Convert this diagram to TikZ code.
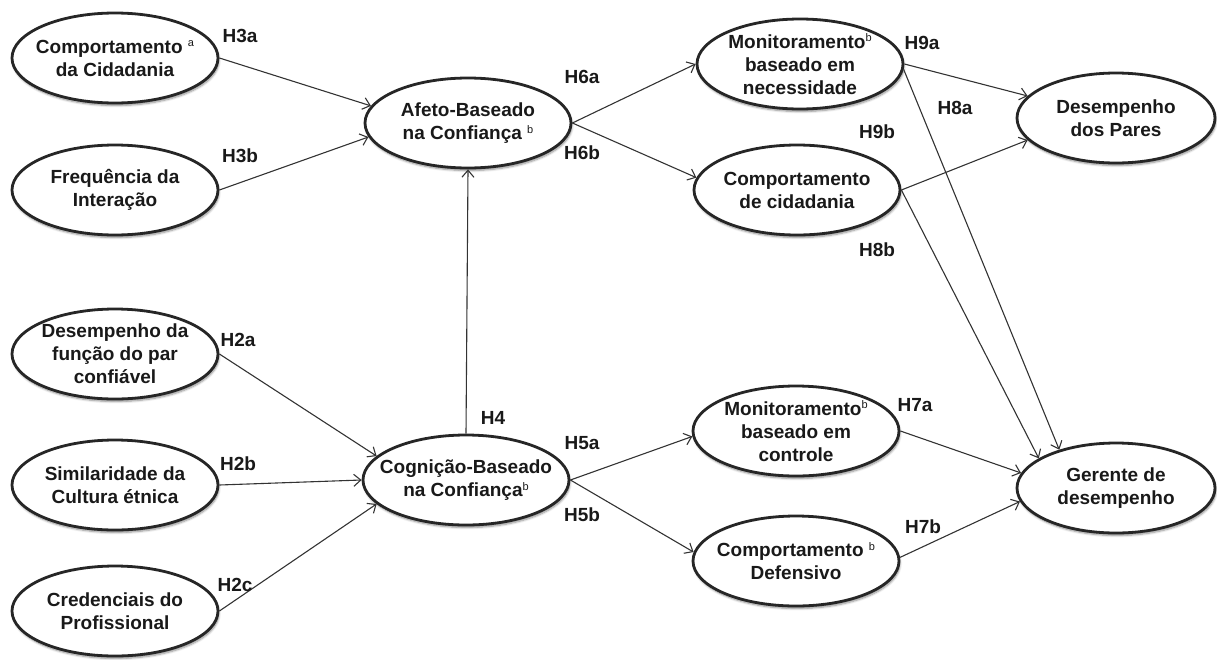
\documentclass[tikz,border=0pt]{standalone}
\usepackage{fontspec}
\setmainfont{Liberation Sans}
\usetikzlibrary{shapes.geometric,arrows.meta,shadows.blur}

% small raised marker after a construct name
\newcommand\upmark[1]{\raisebox{0.62ex}{\fontsize{11}{11}\selectfont\mdseries #1}}

\tikzset{
  ell/.style={ellipse, draw=black!85, line width=2.8pt, fill=white,
    minimum width=206, minimum height=90, inner sep=0pt,
    blur shadow={shadow xshift=1pt, shadow yshift=-2.5pt,
      shadow blur steps=6, shadow opacity=45}},
  txt/.style={font=\fontsize{19}{23}\selectfont\bfseries, text=black!90,
    align=center, inner sep=0pt},
  hyp/.style={font=\fontsize{19}{23}\selectfont\bfseries, text=black!90,
    inner sep=0pt},
  link/.style={draw=black!80, line width=1.1pt,
    -{Straight Barb[length=7pt,width=12pt,line width=1.1pt]}},
}

\begin{document}
\begin{tikzpicture}[x=1pt,y=-1pt]
\useasboundingbox (0,0) rectangle (1217,659);

% antecedents
\node[ell, label={[txt]center:{Comportamento \upmark{a}\\da Cidadania}}] (cc) at (115,58) {};
\node[ell, label={[txt]center:{Frequência da\\Interação}}] (fi) at (115,190) {};
\node[ell, label={[txt]center:{Desempenho da\\função do par\\confiável}}] (dp) at (115,354) {};
\node[ell, label={[txt]center:{Similaridade da\\Cultura étnica}}] (sc) at (115,485) {};
\node[ell, label={[txt]center:{Credenciais do\\Profissional}}] (cp) at (115,611) {};

% trust constructs
\node[ell, label={[txt]center:{Afeto-Baseado\\na Confiança \upmark{b}}}] (af) at (468,123) {};
\node[ell, label={[txt]center:{Cognição-Baseado\\na Confiança\upmark{b}}}] (cg) at (466,480) {};

% mediators
\node[ell, label={[txt]center:{Monitoramento\upmark{b}\\baseado em\\necessidade}}] (mn) at (800,64) {};
\node[ell, label={[txt]center:{Comportamento\\de cidadania}}] (cd) at (797,190) {};
\node[ell, label={[txt]center:{Monitoramento\upmark{b}\\baseado em\\controle}}] (mc) at (796,431) {};
\node[ell, label={[txt]center:{Comportamento \upmark{b}\\Defensivo}}] (cf) at (796,561) {};

% outcomes
\node[ell, minimum width=198, label={[txt]center:{Desempenho\\dos Pares}}] (dpar) at (1116,118) {};
\node[ell, minimum width=198, label={[txt]center:{Gerente de\\desempenho}}] (gd) at (1116,488) {};

% paths
\draw[link] (cc.east) -- (af.170);
\draw[link] (fi.east) -- (af.188);
\draw[link] (cg.north) -- (af.south);
\draw[link] (af.east) -- (mn.west);
\draw[link] (af.east) -- (cd.173);
\draw[link] (mn.east) -- (dpar.166);
\draw[link] (cd.east) -- (dpar.194);
\draw[link] (mn.-3) -- (gd.146);
\draw[link] (cd.east) -- (gd.159);
\draw[link] (dp.east) -- (cg.165);
\draw[link] (sc.east) -- (cg.west);
\draw[link] (cp.east) -- (cg.195);
\draw[link] (cg.east) -- (mc.183);
\draw[link] (cg.east) -- (cf.175);
\draw[link] (mc.east) -- (gd.171);
\draw[link] (cf.2) -- (gd.188);

% hypothesis labels
\node[hyp] (h3a) at (240,36) {H3a};
\node[hyp] (h3b) at (240,156) {H3b};
\node[hyp] (h2a) at (238,340) {H2a};
\node[hyp] (h2b) at (238,464) {H2b};
\node[hyp] (h2c) at (235,585) {H2c};
\node[hyp] (h4) at (493,418) {H4};
\node[hyp] (h6a) at (582,77) {H6a};
\node[hyp] (h6b) at (582,153) {H6b};
\node[hyp] (h5a) at (582,443) {H5a};
\node[hyp] (h5b) at (582,515) {H5b};
\node[hyp] (h9a) at (922,43) {H9a};
\node[hyp] (h8a) at (955,108) {H8a};
\node[hyp] (h9b) at (877,132) {H9b};
\node[hyp] (h8b) at (877,250) {H8b};
\node[hyp] (h7a) at (915,405) {H7a};
\node[hyp] (h7b) at (923,527) {H7b};
\end{tikzpicture}
\end{document}
